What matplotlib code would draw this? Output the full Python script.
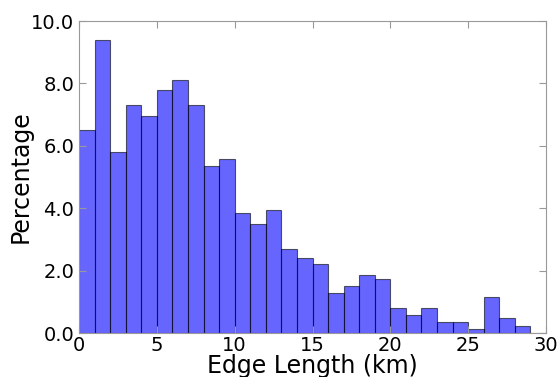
import numpy as np
import matplotlib
matplotlib.use("Agg")
import matplotlib.pyplot as plt
from matplotlib.ticker import FormatStrFormatter

# 1 km bins from 0 to 30, share of edges (%)
bin_left = np.arange(0, 30)
pct = [6.50, 9.40, 5.80, 7.31, 6.95, 7.78, 8.12, 7.31, 5.34, 5.57,
       3.84, 3.49, 3.94, 2.68, 2.42, 2.20, 1.27, 1.50, 1.85, 1.74,
       0.81, 0.58, 0.81, 0.34, 0.34, 0.12, 1.16, 0.48, 0.22, 0.0]

fig = plt.figure(figsize=(5.58, 3.77), dpi=100)
ax = fig.add_axes([0.1416, 0.1167, 0.8369, 0.8273])

ax.bar(bin_left, pct, width=1.0, align="edge", color="blue", alpha=0.6,
       edgecolor="black", linewidth=0.8)

ax.set_xlim(0, 30)
ax.set_ylim(0, 10)
ax.set_xticks([0, 5, 10, 15, 20, 25, 30])
ax.set_yticks([0, 2, 4, 6, 8, 10])
ax.yaxis.set_major_formatter(FormatStrFormatter("%.1f"))
ax.tick_params(direction="in", top=True, right=True, labelsize=14,
               length=5, color="#999999")
ax.tick_params(axis="x", pad=2)
for s in ax.spines.values():
    s.set_color("#999999")

ax.set_xlabel("Edge Length (km)", fontsize=17)
ax.set_ylabel("Percentage", fontsize=17)
ax.xaxis.set_label_coords(0.5, -0.067)
ax.yaxis.set_label_coords(-0.099, 0.5)

fig.savefig("out.png", dpi=100)
